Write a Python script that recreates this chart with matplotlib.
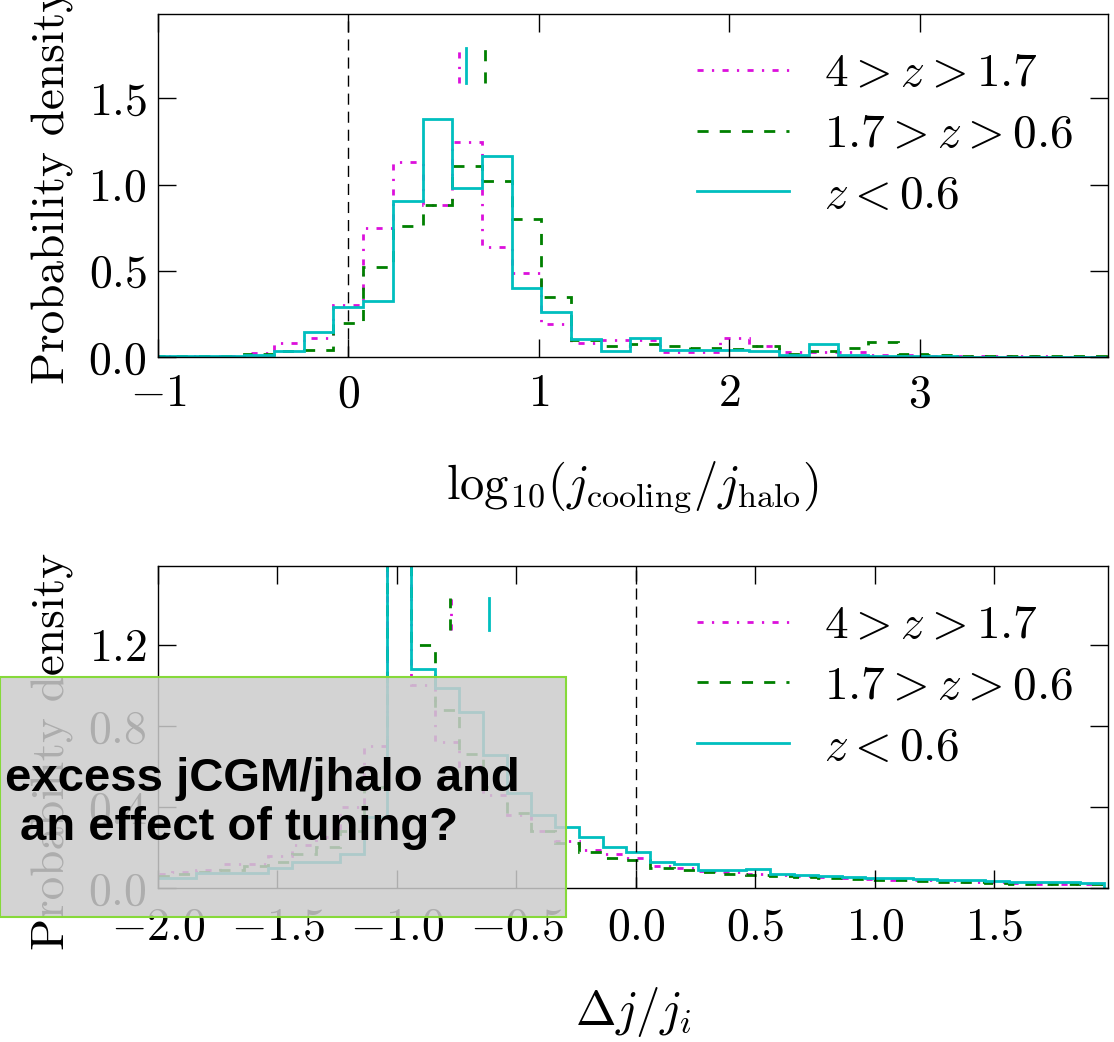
import numpy as np
import matplotlib
matplotlib.use('Agg')
import matplotlib.pyplot as plt
from matplotlib.patches import Rectangle
from matplotlib.ticker import MultipleLocator

plt.rcParams.update({
    'font.family': 'serif',
    'font.serif': ['cmr10'],
    'mathtext.fontset': 'cm',
    'axes.formatter.use_mathtext': True,
    'axes.linewidth': 1.0,
})

# redshift bins
labels = [r'$4 > z > 1.7$', r'$1.7 > z > 0.6$', r'$z < 0.6$']
colors = ['#dc10dc', 'g', 'c']
styles = [(0, (2.2, 3, 0.8, 3)), (0, (4, 4)), '-']

# log10(j_cooling / j_halo)
jcool_edges = -0.078 + 0.156 * np.arange(-6, 27)
jcool_hiz = [0.003, 0.005, 0.008, 0.025, 0.08, 0.11, 0.30, 0.75, 1.13, 0.88, 1.25, 0.64,
             0.49, 0.19, 0.08, 0.10, 0.10, 0.03, 0.03, 0.11, 0.064, 0.03, 0.03, 0.03,
             0.012, 0.01, 0.006, 0.004, 0.003, 0.003, 0.002, 0.002]
jcool_midz = [0.003, 0.004, 0.008, 0.02, 0.035, 0.04, 0.195, 0.52, 0.76, 0.88, 1.11, 1.02,
              0.80, 0.35, 0.10, 0.064, 0.074, 0.064, 0.055, 0.045, 0.064, 0.015, 0.035, 0.055,
              0.085, 0.02, 0.01, 0.008, 0.006, 0.005, 0.004, 0.003]
jcool_lowz = [0.003, 0.004, 0.006, 0.01, 0.035, 0.145, 0.29, 0.325, 0.905, 1.38, 0.98, 1.165,
              0.40, 0.26, 0.107, 0.035, 0.113, 0.04, 0.04, 0.04, 0.035, 0.012, 0.074, 0.012,
              0.006, 0.005, 0.003, 0.002, 0.002, 0.002, 0.001, 0.001]
jcool_medians = [0.58, 0.72, 0.62]

# delta j / j_i
dj_edges = -2.04 + 0.1 * np.arange(41)
dj_hiz = [0.07, 0.08, 0.09, 0.12, 0.12, 0.16, 0.21, 0.25, 0.40, 0.70,
          3.0, 1.00, 0.72, 0.60, 0.46, 0.36, 0.28, 0.23, 0.19, 0.17,
          0.15, 0.11, 0.10, 0.085, 0.08, 0.07, 0.065, 0.06, 0.055, 0.05,
          0.045, 0.04, 0.038, 0.035, 0.03, 0.028, 0.025, 0.022, 0.02, 0.02]
dj_midz = [0.06, 0.07, 0.08, 0.09, 0.11, 0.13, 0.17, 0.20, 0.28, 0.50,
           3.0, 1.20, 0.88, 0.66, 0.50, 0.37, 0.28, 0.22, 0.18, 0.15,
           0.14, 0.10, 0.09, 0.08, 0.07, 0.065, 0.06, 0.055, 0.05, 0.045,
           0.04, 0.038, 0.035, 0.03, 0.028, 0.025, 0.022, 0.02, 0.018, 0.018]
dj_lowz = [0.05, 0.05, 0.075, 0.075, 0.075, 0.10, 0.13, 0.13, 0.17, 0.35,
           3.2, 1.08, 0.99, 0.87, 0.655, 0.47, 0.36, 0.30, 0.25, 0.20,
           0.18, 0.13, 0.12, 0.09, 0.09, 0.095, 0.07, 0.065, 0.06, 0.055,
           0.05, 0.047, 0.045, 0.04, 0.038, 0.035, 0.032, 0.03, 0.028, 0.027]
dj_medians = [-0.775, -0.78, -0.617]


def draw_panel(ax, edges, series, medians):
    handles = []
    for vals, c, ls in zip(series, colors, styles):
        ax.stairs(vals, edges, color=c, linestyle=ls, lw=2)
    for m, c, ls, lab in zip(medians, colors, styles, labels):
        h, = ax.plot([m, m], [0.8, 0.9], transform=ax.get_xaxis_transform(),
                     color=c, ls=ls, lw=2, label=lab)
        handles.append(h)
    ax.axvline(0, color='k', lw=1, ls=(0, (8, 5)))
    ax.tick_params(direction='in', top=True, right=True, length=13, width=1,
                   labelsize=33)
    ax.tick_params(axis='y', pad=8)
    ax.set_ylabel('Probability density', fontsize=34)
    return handles


def add_legend(ax, handles, top):
    ax.legend(handles=handles, loc='upper left', bbox_to_anchor=(0.567, top),
              frameon=False, fontsize=34, handlelength=1.95, handletextpad=0.75,
              labelspacing=0.4, borderpad=0, borderaxespad=0)


fig = plt.figure(figsize=(11.14, 10.42), dpi=100)

ax1 = fig.add_axes([0.1418, 0.6574, 0.8528, 0.3292])
h1 = draw_panel(ax1, jcool_edges, [jcool_hiz, jcool_midz, jcool_lowz], jcool_medians)
ax1.set_xlim(-1, 3.99)
ax1.set_ylim(0, 1.99)
ax1.yaxis.set_major_locator(MultipleLocator(0.5))
ax1.xaxis.set_major_locator(MultipleLocator(1))
ax1.tick_params(axis='x', pad=12)
ax1.set_xlabel(r'$\mathrm{log}_{10}(j_{\rm cooling}/j_{\rm halo})$', fontsize=35)
ax1.xaxis.set_label_coords(0.5, -0.3)
ax1.yaxis.set_label_coords(-0.088, 0.5)
add_legend(ax1, h1, 0.886)

ax2 = fig.add_axes([0.1418, 0.1478, 0.8528, 0.309])
h2 = draw_panel(ax2, dj_edges, [dj_hiz, dj_midz, dj_lowz], dj_medians)
ax2.set_xlim(-2, 1.975)
ax2.set_ylim(0, 1.59)
ax2.yaxis.set_major_locator(MultipleLocator(0.4))
ax2.xaxis.set_major_locator(MultipleLocator(0.5))
ax2.tick_params(axis='x', pad=14)
ax2.set_xlabel(r'$\Delta j/j_i$', fontsize=35)
ax2.xaxis.set_label_coords(0.5, -0.3)
ax2.yaxis.set_label_coords(-0.088, 0.425)
add_legend(ax2, h2, 0.879)

# translucent note box laid over the lower panel
fig.patches.append(Rectangle((0, 0.12), 0.508, 0.2303, transform=fig.transFigure,
                             facecolor=(0.8, 0.8, 0.8, 0.85), edgecolor='#86d93a',
                             lw=1.5, zorder=10))
note_font = dict(fontsize=34, fontweight='bold', family='Liberation Sans',
                 va='baseline', zorder=11)
fig.text(0.0045, 0.2405, 'excess jCGM/jhalo and', **note_font)
fig.text(0.018, 0.1939, 'an effect of tuning?', **note_font)

fig.savefig('out.png', dpi=100)
